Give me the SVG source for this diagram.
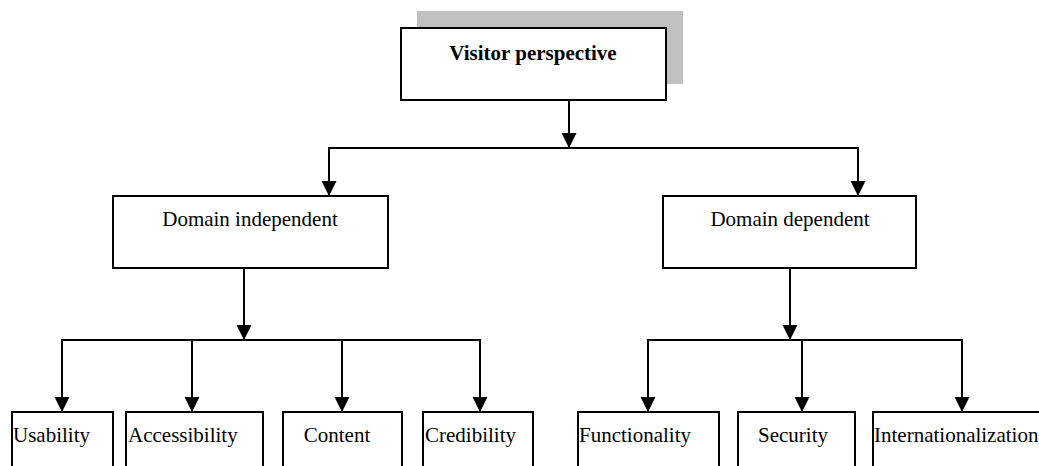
<svg xmlns="http://www.w3.org/2000/svg" width="1039" height="466" viewBox="0 0 1039 466">
<style>
  .box { fill: #ffffff; stroke: #000000; stroke-width: 2; }
  .shadow { fill: #c0c0c0; stroke: none; }
  .lbl { font-family: "Liberation Serif", "Times New Roman", serif; font-size: 21px; fill: #000000; }
  .bold { font-weight: bold; }
  .wire { fill: none; stroke: #000000; stroke-width: 2; }
  .arr { fill: none; stroke: #000000; stroke-width: 2; marker-end: url(#ah); }
</style>
<defs>
  <marker id="ah" markerUnits="userSpaceOnUse" markerWidth="15" markerHeight="16" refX="15" refY="7.5" orient="auto">
    <path d="M0,0 L15,7.5 L0,15 Z" fill="#000000"/>
  </marker>
</defs>
<rect width="1039" height="466" fill="#ffffff"/>

<g id="connectors">
  <line class="arr" x1="569" y1="100" x2="569" y2="148"/>
  <line class="wire" x1="329" y1="148" x2="858" y2="148"/>
  <line class="arr" x1="329" y1="147" x2="329" y2="196"/>
  <line class="arr" x1="858" y1="147" x2="858" y2="196"/>

  <line class="arr" x1="244" y1="268" x2="244" y2="340"/>
  <line class="wire" x1="62" y1="340" x2="481" y2="340"/>
  <line class="arr" x1="62" y1="339" x2="62" y2="412"/>
  <line class="arr" x1="192" y1="339" x2="192" y2="412"/>
  <line class="arr" x1="342" y1="339" x2="342" y2="412"/>
  <line class="arr" x1="480" y1="339" x2="480" y2="412"/>

  <line class="arr" x1="790" y1="268" x2="790" y2="340"/>
  <line class="wire" x1="647" y1="340" x2="963" y2="340"/>
  <line class="arr" x1="648" y1="339" x2="648" y2="412"/>
  <line class="arr" x1="802" y1="339" x2="802" y2="412"/>
  <line class="arr" x1="962" y1="339" x2="962" y2="412"/>
</g>

<g id="visitor-perspective">
  <rect class="shadow" x="417" y="11" width="266" height="73"/>
  <rect class="box" x="401" y="28" width="265" height="72"/>
  <text class="lbl bold" x="533" y="60" text-anchor="middle">Visitor perspective</text>
</g>

<g id="domain-independent">
  <rect class="box" x="113" y="196" width="275" height="72"/>
  <text class="lbl" x="250" y="226" text-anchor="middle">Domain independent</text>
</g>

<g id="domain-dependent">
  <rect class="box" x="663" y="196" width="253" height="72"/>
  <text class="lbl" x="790" y="226" text-anchor="middle">Domain dependent</text>
</g>

<g id="usability">
  <rect class="box" x="12" y="412" width="101" height="70"/>
  <text class="lbl" x="13" y="442">Usability</text>
</g>
<g id="accessibility">
  <rect class="box" x="126" y="412" width="137" height="70"/>
  <text class="lbl" x="128" y="442">Accessibility</text>
</g>
<g id="content">
  <rect class="box" x="283" y="412" width="119" height="70"/>
  <text class="lbl" x="337" y="442" text-anchor="middle">Content</text>
</g>
<g id="credibility">
  <rect class="box" x="423" y="412" width="110" height="70"/>
  <text class="lbl" x="425" y="442">Credibility</text>
</g>
<g id="functionality">
  <rect class="box" x="578" y="412" width="141" height="70"/>
  <text class="lbl" x="579" y="442">Functionality</text>
</g>
<g id="security">
  <rect class="box" x="738" y="412" width="117" height="70"/>
  <text class="lbl" x="793" y="442" text-anchor="middle">Security</text>
</g>
<g id="internationalization">
  <rect class="box" x="873" y="412" width="180" height="70"/>
  <text class="lbl" x="874" y="442">Internationalization</text>
</g>
</svg>
